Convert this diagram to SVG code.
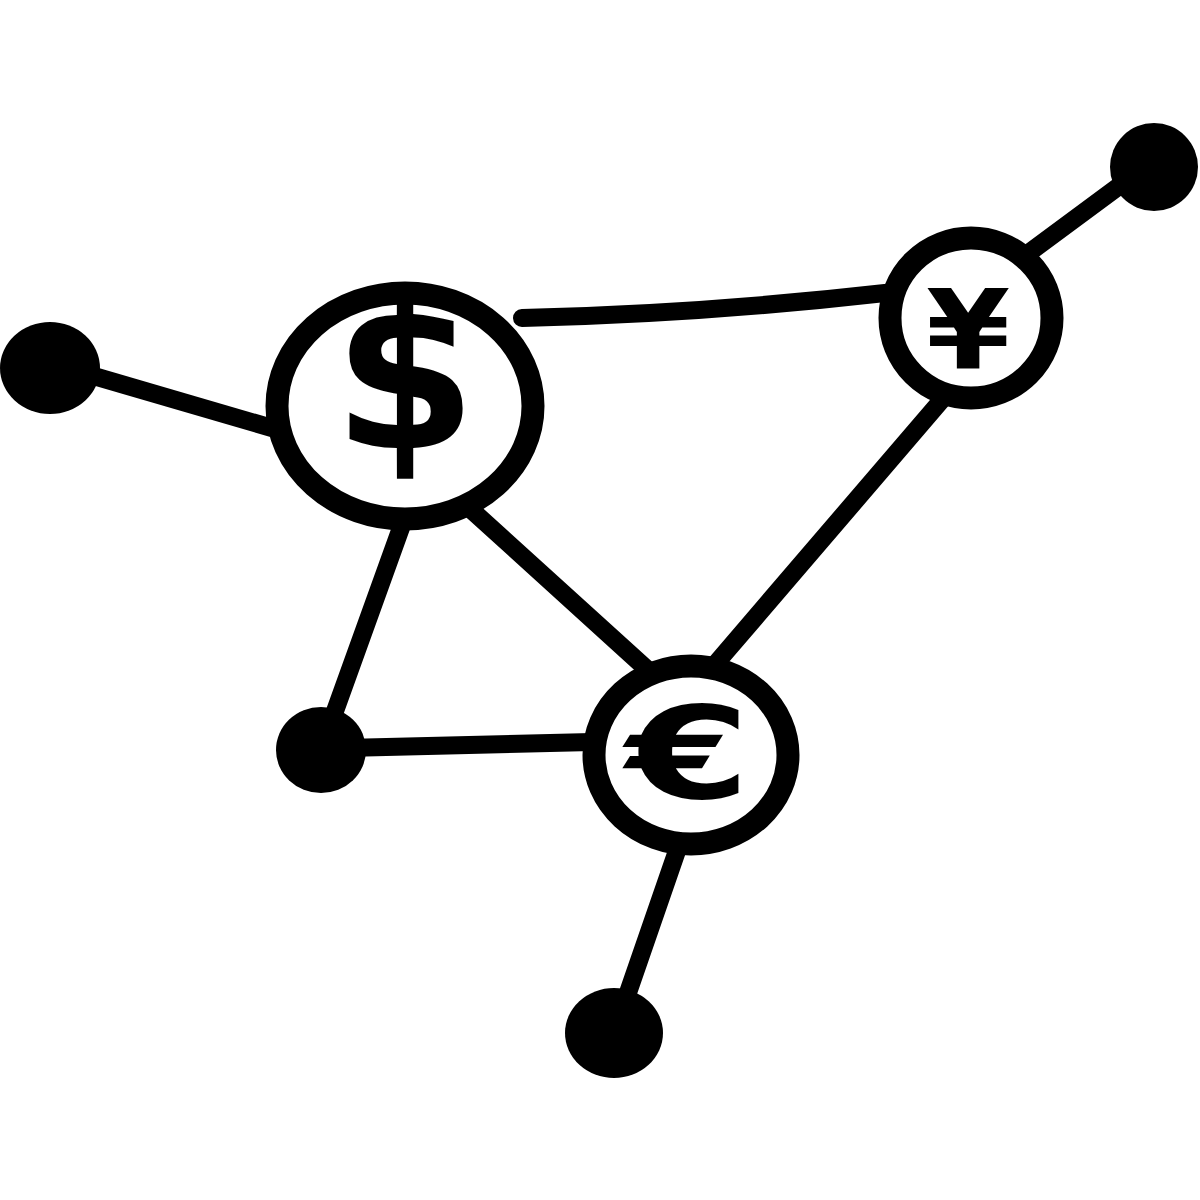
<svg xmlns="http://www.w3.org/2000/svg" width="1200" height="1200" viewBox="0 0 1200 1200">
<style>
.ring{fill:#fff;stroke:#000;stroke-width:23}
.dot{fill:#000}
.edge{stroke:#000;stroke-width:18;stroke-linecap:round;fill:none}
.sym{font-family:"DejaVu Sans",sans-serif;font-weight:bold;fill:#000;text-anchor:middle}
</style>
<rect width="1200" height="1200" fill="#fff"/>
<g id="connectors">
<path class="edge" d="M80,372 L272,428"/>
<path class="edge" d="M522,318 Q700,314 885,293"/>
<path class="edge" d="M1030,252 L1130,178"/>
<path class="edge" d="M946,395 L712,668"/>
<path class="edge" d="M466,505 L650,672"/>
<path class="edge" d="M402,525 L330,725"/>
<path class="edge" d="M345,748 L592,742"/>
<path class="edge" d="M678,848 L622,1010"/>
</g>
<g id="dot-left"><ellipse class="dot" cx="50" cy="368" rx="50" ry="46"/></g>
<g id="dot-topright"><ellipse class="dot" cx="1154" cy="167" rx="44" ry="44"/></g>
<g id="dot-bottomleft"><ellipse class="dot" cx="321" cy="750" rx="45" ry="43"/></g>
<g id="dot-bottom"><ellipse class="dot" cx="614" cy="1033" rx="49" ry="45"/></g>
<g id="node-dollar">
<ellipse class="ring" cx="405" cy="406" rx="128" ry="113"/>
<text class="sym" x="405" y="448" font-size="206">$</text>
</g>
<g id="node-yen">
<ellipse class="ring" cx="971" cy="318" rx="81" ry="80"/>
<text class="sym" transform="translate(968,368) scale(1.1,1)" x="0" y="0" font-size="110">¥</text>
</g>
<g id="node-euro">
<ellipse class="ring" cx="691" cy="755" rx="97" ry="89"/>
<text class="sym" transform="translate(688,798) scale(1.4,1)" x="0" y="0" font-size="128">€</text>
</g>
</svg>
